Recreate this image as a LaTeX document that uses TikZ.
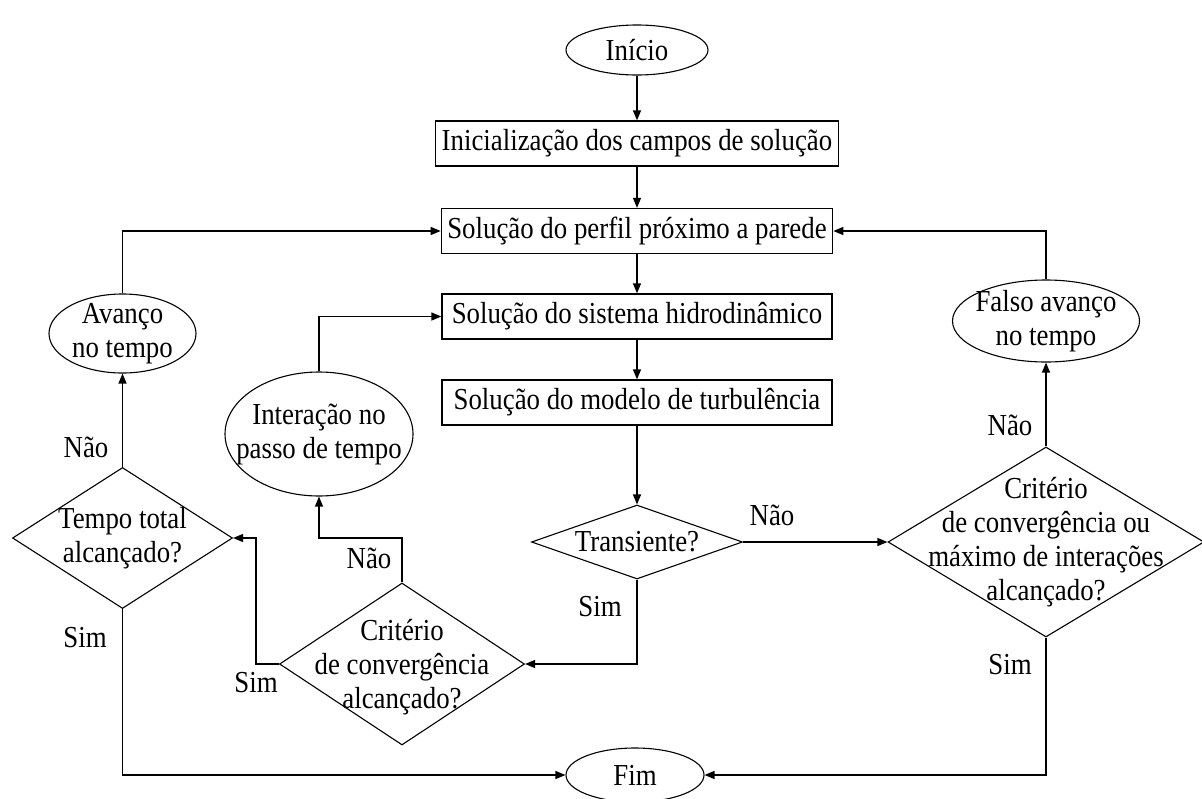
\documentclass[tikz,border=0pt]{standalone}
\usepackage{fontspec}
\setmainfont[FakeStretch=0.88]{Liberation Serif}
\usetikzlibrary{arrows,arrows.meta,shapes.geometric,positioning}

\tikzset{
  caixa/.style={draw, rectangle, line width=1.3pt, minimum width=390pt, minimum height=45pt, inner sep=6pt},
  terminal/.style={draw, ellipse, line width=1.1pt, inner sep=0pt},
  decisao/.style={draw, diamond, line width=1.1pt, inner sep=0pt},
  rotulo/.style={inner sep=0pt},
  fluxo/.style={->, line width=1.3pt},
}

\begin{document}
\begin{tikzpicture}[x=1pt, y=-1pt, >={Triangle[length=10pt,width=8pt]},
    font=\fontsize{30.5}{34}\selectfont, node distance=86pt]
  \useasboundingbox (0,0) rectangle (1202,798);

  % coluna central
  \node[terminal, minimum width=142pt, minimum height=50pt] (inicio) at (637,50) {Início};
  \node[caixa] (inic) [below of=inicio, node distance=93.5pt] {Inicialização dos campos de solução};
  \node[caixa] (perfil) [below of=inic, node distance=87.5pt] {Solução do perfil próximo a parede};
  \node[caixa] (sistema) [below of=perfil, node distance=85.5pt] {Solução do sistema hidrodinâmico};
  \node[caixa] (modelo) [below of=sistema] {Solução do modelo de turbulência};
  \node[decisao, minimum width=211pt, minimum height=74pt,
        label={center:Transiente?}] (trans) [below of=modelo, node distance=139.5pt] {};
  \node[terminal, minimum width=138pt, minimum height=54pt] (fim) at (635,775) {Fim};

  % lado esquerdo
  \node[decisao, minimum width=245pt, minimum height=162pt,
        label={[align=center, yshift=-3pt]center:Critério\\de convergência\\alcançado?}] (critesq) at (402,664) {};
  \node[terminal, minimum width=188pt, minimum height=124pt,
        label={[align=center]center:Interação no\\passo de tempo}] (interacao) at (319,434) {};
  \node[decisao, minimum width=220pt, minimum height=141pt,
        label={[align=center]center:Tempo total\\alcançado?}] (tempo) at (122.5,538) {};
  \node[terminal, minimum width=147pt, minimum height=79pt,
        label={[align=center]center:Avanço\\no tempo}] (avanco) at (122.5,333.5) {};

  % lado direito
  \node[decisao, minimum width=316pt, minimum height=190pt,
        label={[align=center]center:Critério\\de convergência ou\\máximo de interações\\alcançado?}] (critdir) at (1046,542) {};
  \node[terminal, minimum width=187pt, minimum height=82pt,
        label={[align=center]center:Falso avanço\\no tempo}] (falso) at (1046,321) {};

  % rotulos
  \node[rotulo] (naoAvanco) at (86,447) {Não};
  \node[rotulo] (simTempo) at (85,638) {Sim};
  \node[rotulo] (naoInter) at (369,558) {Não};
  \node[rotulo] (simCrit) at (256,683) {Sim};
  \node[rotulo] (simTrans) at (600,607) {Sim};
  \node[rotulo] (naoTrans) at (772,515) {Não};
  \node[rotulo] (naoFalso) at (1010,425) {Não};
  \node[rotulo] (simFim) at (1010,665) {Sim};

  % conexoes
  \draw[fluxo] (inicio) -- (inic);
  \draw[fluxo] (inic) -- (perfil);
  \draw[fluxo] (perfil) -- (sistema);
  \draw[fluxo] (sistema) -- (modelo);
  \draw[fluxo] (modelo) -- (trans);
  \draw[fluxo] (trans.east) -- (critdir.west);
  \draw[fluxo] (trans.south) |- (critesq.east);
  \draw[fluxo] (critesq.north) |- (interacao.south |- tempo.east) -- (interacao.south);
  \draw[fluxo] (critesq.west) -- ++(-23,0) |- (tempo.east);
  \draw[fluxo] (interacao.north) |- (sistema.west);
  \draw[fluxo] (tempo.north) -- (avanco.south);
  \draw[fluxo] (avanco.north) |- (perfil.west);
  \draw[fluxo] (tempo.south) |- (fim.west);
  \draw[fluxo] (critdir.south) |- (fim.east);
  \draw[fluxo] (critdir.north) -- (falso.south);
  \draw[fluxo] (falso.north) |- (perfil.east);
\end{tikzpicture}
\end{document}
